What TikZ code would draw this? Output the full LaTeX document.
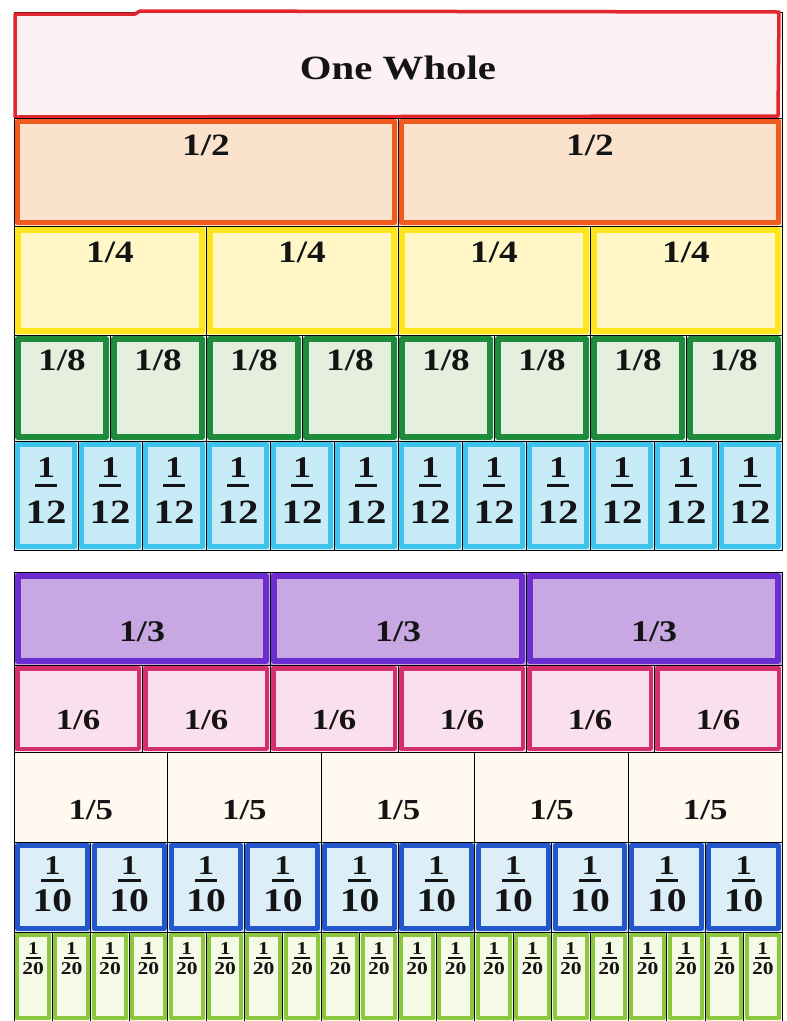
\documentclass[tikz,border=0pt]{standalone}
\usepackage{fontspec}
\setmainfont{Liberation Serif}
\newfontfamily\lab[FakeStretch=1.2]{Liberation Serif Bold}
\definecolor{wholeF}{HTML}{FDF1F3}\definecolor{wholeL}{HTML}{E2262E}
\definecolor{halfF}{HTML}{FAE2CC}\definecolor{halfL}{HTML}{F05A1E}
\definecolor{quarF}{HTML}{FFF8C6}\definecolor{quarL}{HTML}{FFE61C}
\definecolor{eighF}{HTML}{E6EFDD}\definecolor{eighL}{HTML}{1E8A3C}
\definecolor{twelF}{HTML}{C8ECF7}\definecolor{twelL}{HTML}{3DC3EC}
\definecolor{thirF}{HTML}{C8A8E2}\definecolor{thirL}{HTML}{6B2DD0}
\definecolor{sixtF}{HTML}{FADFEC}\definecolor{sixtL}{HTML}{D62F6E}
\definecolor{fiftF}{HTML}{FFF9EF}
\definecolor{tentF}{HTML}{DCEFF9}\definecolor{tentL}{HTML}{2457CC}
\definecolor{twenF}{HTML}{F5FAE6}\definecolor{twenL}{HTML}{8DC63F}
\tikzset{
  gridline/.style={draw=black, line width=0.9pt},
  txt/.style={font=\lab\fontsize{#1}{#1}\selectfont, inner sep=0pt, text=black!92},
  fracbar/.style={draw=black!92, line width=#1},
}
% #1 count, #2 ytop, #3 ybot, #4 fill, #5 pen colour, #6 pen width, #7 label y, #8 prefix, #9 font size
\newcommand\simplerow[9]{%
  \pgfmathsetmacro\cw{768/#1}%
  \pgfmathsetmacro\ins{#6/2+1}%
  \foreach \i in {1,...,#1}{%
    \pgfmathsetmacro\xa{14+\cw*(\i-1)}%
    \pgfmathsetmacro\xb{14+\cw*\i}%
    \fill[#4] (\xa,#2) rectangle (\xb,#3);
    \path[draw=#5, line width=#6pt, line join=round] (\xa+\ins,#2+\ins) rectangle (\xb-\ins,#3-\ins);
  }
  \foreach \i in {1,...,#1}{%
    \pgfmathsetmacro\xa{14+\cw*(\i-1)}%
    \pgfmathsetmacro\xb{14+\cw*\i}%
    \draw[gridline] (\xa,#2) rectangle (\xb,#3);
    \node[txt=#9] (#8\i) at ({(\xa+\xb)/2},#7) {1/#1};
  }
}
% #1 count, #2 ytop, #3 ybot, #4 fill, #5 pen, #6 pen width, #7 prefix, #8 num y, #9 den y
\newcommand\stackrow[9]{%
  \pgfmathsetmacro\cw{768/#1}%
  \pgfmathsetmacro\ins{#6/2+1}%
  \foreach \i in {1,...,#1}{%
    \pgfmathsetmacro\xa{14+\cw*(\i-1)}%
    \pgfmathsetmacro\xb{14+\cw*\i}%
    \fill[#4] (\xa,#2) rectangle (\xb,#3);
    \path[draw=#5, line width=#6pt, line join=round] (\xa+\ins,#2+\ins) rectangle (\xb-\ins,#3-\ins);
  }
  \foreach \i in {1,...,#1}{%
    \pgfmathsetmacro\xa{14+\cw*(\i-1)}%
    \pgfmathsetmacro\xb{14+\cw*\i}%
    \draw[gridline] (\xa,#2) rectangle (\xb,#3);
    \node[txt=\numsz] (#7n\i) at ({(\xa+\xb)/2},#8) {1};
    \node[txt=\densz] (#7d\i) at ({(\xa+\xb)/2},#9) {#1};
    \draw[fracbar=\barw] ([xshift=-\barx,yshift=-\bargap]#7n\i.south west) -- ([xshift=\barx,yshift=-\bargap]#7n\i.south east);
  }
}
\begin{document}
\begin{tikzpicture}[x=1pt,y=-1pt]
\useasboundingbox (0,0) rectangle (787,1021);
\fill[white] (0,0) rectangle (787,1021);
% one whole
\fill[wholeF] (14,12) rectangle (782,118);
\draw[gridline] (14,12) rectangle (782,118);
\draw[wholeL, line width=3.5pt, line join=round] (15,14) -- (135,14) -- (140,11) -- (779,12) -- (778,116) -- (15,117) -- cycle;
\node[txt=34] (whole) at (398,68) {One Whole};
% halves
\simplerow{2}{118}{226}{halfF}{halfL}{5}{145}{h}{31}
% quarters
\simplerow{4}{226}{335}{quarF}{quarL}{6}{252}{q}{31}
% eighths
\simplerow{8}{335}{441}{eighF}{eighL}{6}{360}{e}{31}
% twelfths
\def\numsz{30}\def\densz{34}\def\barw{3pt}\def\barx{2pt}\def\bargap{7pt}
\stackrow{12}{441}{550}{twelF}{twelL}{5}{t}{468}{512}
% thirds
\simplerow{3}{572}{665}{thirF}{thirL}{6}{632}{th}{30}
% sixths
\simplerow{6}{665}{752}{sixtF}{sixtL}{4.5}{720}{s}{29}
% fifths
\simplerow{5}{752}{842}{fiftF}{none}{1}{810}{f}{29}
% tenths
\def\numsz{27}\def\densz{33}\def\barw{3pt}\def\barx{3pt}\def\bargap{5pt}
\stackrow{10}{842}{932}{tentF}{tentL}{5}{d}{866}{901}
% twentieths
\def\numsz{18}\def\densz{18}\def\barw{2pt}\def\barx{2pt}\def\bargap{2.5pt}
\stackrow{20}{932}{1021}{twenF}{twenL}{4}{v}{949}{969}
\end{tikzpicture}
\end{document}
